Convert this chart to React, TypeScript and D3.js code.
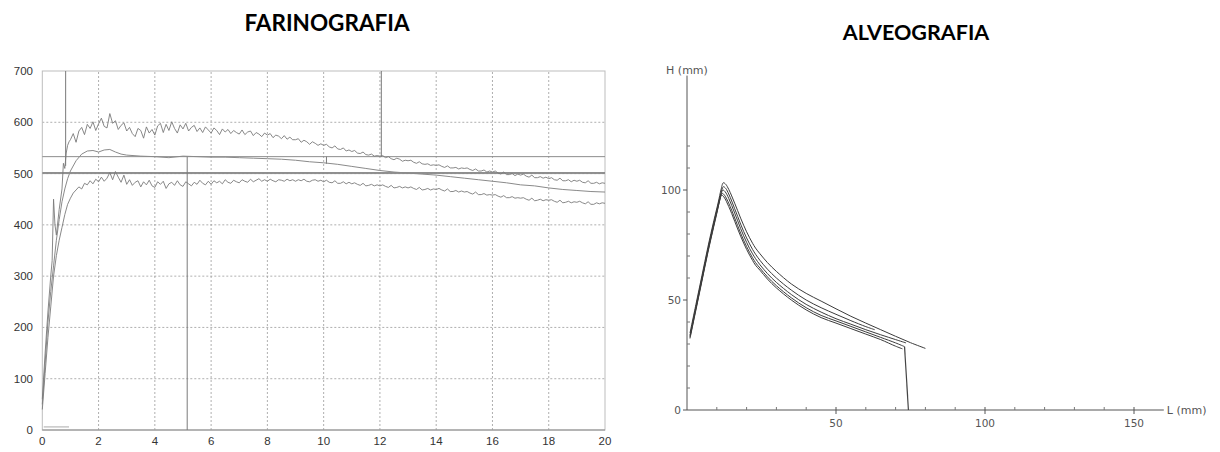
import React from "react";
import * as d3 from "d3";

// ---------- FARINOGRAFIA data ----------
const farXTicks = [0, 2, 4, 6, 8, 10, 12, 14, 16, 18, 20];
const farYTicks = [0, 100, 200, 300, 400, 500, 600, 700];

// early rise (x, value)
const upperRise: [number, number][] = [
  [0, 60], [0.1, 150], [0.2, 230], [0.3, 300], [0.35, 330], [0.4, 450], [0.45, 400],
  [0.5, 380], [0.6, 430], [0.7, 470], [0.75, 520], [0.8, 510], [0.85, 540], [0.9, 555], [0.95, 562],
];
const lowerRise: [number, number][] = [
  [0, 40], [0.1, 110], [0.2, 180], [0.3, 240], [0.4, 300], [0.5, 340], [0.6, 370],
  [0.7, 395], [0.8, 420], [0.9, 440],
];
// noisy band, x = 1.0 .. 20.0 step 0.1
const upperBand = [
  566, 578, 561, 583, 590, 576, 596, 588, 601, 584,
  597, 608, 592, 589, 617, 598, 603, 586, 594, 599,
  583, 590, 578, 572, 588, 584, 569, 591, 579, 586,
  575, 593, 598, 580, 596, 584, 601, 588, 579, 595,
  587, 598, 583, 590, 594, 582, 589, 580, 591, 585,
  579, 589, 584, 576, 587, 581, 586, 578, 584, 580,
  577, 585, 576, 581, 583, 574, 580, 577, 572, 579,
  575, 578, 570, 575, 573, 568, 574, 567, 571, 566,
  566, 568, 561, 565, 562, 557, 562, 559, 555, 558,
  555, 557, 552, 550, 554, 548, 547, 550, 544, 546,
  543, 545, 540, 539, 542, 537, 536, 538, 534, 535,
  534, 535, 531, 533, 529, 527, 530, 528, 524, 526,
  525, 526, 522, 520, 523, 519, 518, 519, 516, 517,
  516, 517, 514, 512, 515, 511, 511, 512, 509, 511,
  510, 511, 508, 506, 509, 505, 505, 507, 503, 505,
  503, 505, 501, 499, 503, 498, 498, 500, 496, 499,
  497, 499, 495, 493, 497, 492, 492, 494, 491, 493,
  490, 492, 488, 487, 491, 486, 486, 488, 484, 487,
  485, 487, 483, 482, 486, 481, 481, 483, 480, 482,
  481,
];
const lowerBand = [
  452, 462, 468, 474, 470, 481, 478, 486, 480, 489,
  484, 493, 485, 491, 502, 488, 504, 493, 483, 497,
  479, 488, 477, 483, 486, 474, 484, 478, 487, 476,
  473, 484, 479, 485, 471, 480, 483, 477, 486, 478,
  475, 484, 480, 476, 483, 479, 487, 481, 478, 485,
  479, 486, 482, 485, 480, 488, 483, 481, 487, 484,
  482, 488, 485, 483, 489, 484, 487, 490, 485, 488,
  485, 489, 486, 484, 488, 487, 485, 489, 486, 488,
  485, 488, 486, 489, 485, 484, 487, 488, 485, 487,
  484, 487, 483, 482, 486, 481, 481, 484, 480, 483,
  480, 482, 479, 477, 481, 476, 477, 479, 476, 478,
  476, 478, 475, 473, 477, 472, 473, 475, 472, 474,
  472, 474, 471, 469, 473, 468, 469, 471, 468, 470,
  469, 471, 468, 466, 470, 465, 465, 467, 464, 466,
  464, 465, 462, 460, 464, 459, 459, 461, 458, 459,
  458, 459, 456, 454, 457, 453, 453, 455, 452, 453,
  452, 453, 450, 448, 452, 447, 448, 450, 447, 449,
  448, 449, 446, 444, 448, 443, 444, 446, 443, 445,
  444, 446, 443, 441, 445, 440, 440, 443, 441, 443,
  442,
];
const middleCurve: [number, number][] = [
  [0, 50], [0.1, 130], [0.2, 210], [0.3, 270], [0.4, 320], [0.5, 370], [0.6, 410], [0.7, 445],
  [0.8, 470], [0.9, 490], [1.0, 505], [1.2, 525], [1.4, 538], [1.6, 544], [1.8, 545], [2.0, 542],
  [2.2, 546], [2.4, 547], [2.6, 542], [2.8, 538], [3.0, 536], [3.5, 534], [4, 533], [4.5, 531],
  [5, 534], [5.5, 533], [6, 532], [6.5, 532], [7, 531], [7.5, 530], [8, 529], [8.5, 528], [9, 526],
  [9.5, 523], [10, 521], [10.5, 518], [11, 514], [11.5, 510], [12, 506], [12.5, 503], [13, 501],
  [13.5, 499], [14, 497], [14.5, 494], [15, 491], [15.5, 488], [16, 485], [16.5, 482], [17, 478],
  [17.5, 476], [18, 472], [18.5, 469], [19, 467], [19.5, 465], [20, 464],
];
const farHLines = [533, 500, 502];
// vertical markers: [x, from, to]
const farVLines: [number, number, number][] = [
  [0.83, 700, 515],
  [12.05, 700, 533],
  [5.15, 533, 0],
  [10.1, 533, 519],
];
const farBaseMark: [number, number][] = [[0.05, 6], [0.95, 6]];

// ---------- ALVEOGRAFIA data ----------
const alvXLabels = [50, 100, 150];
const alvYLabels = [0, 50, 100];
const alvXMinor = [10, 20, 30, 40, 60, 70, 80, 90, 110, 120, 130, 140];
const alvYMinor = [10, 20, 30, 40, 60, 70, 80, 90, 110, 120];

const alvCurveA: [number, number][] = [
  [1, 35], [3, 48], [5, 61], [7, 74], [9, 86], [10.5, 94.5], [11.4, 100], [12.2, 103.3], [13, 102.6],
  [14, 100.3], [15, 97.3], [16, 94], [17, 90.6], [18, 87.2], [19, 84], [20, 81], [21, 78.3],
  [22, 75.8], [23, 73.6], [24.5, 71], [27, 67], [30, 63], [35, 57.3], [40, 53], [45, 49.5],
  [50, 46], [55, 42.6], [60, 39.5], [65, 36.5], [70, 33.5], [75, 30.6], [80, 28],
];
const alvCurveB: [number, number][] = [
  [1, 34], [3, 47], [5, 60], [7, 73], [9, 85], [10.5, 93.5], [11.4, 98.5], [12.2, 101.5], [13, 100.7],
  [14, 98.2], [15, 95], [16, 91.5], [17, 88], [18, 84.5], [19, 81.2], [20, 78.2], [21, 75.5],
  [22, 73], [23, 70.8], [24.5, 68], [27, 64], [30, 60], [35, 54.5], [40, 50], [45, 46.5],
  [50, 43.5], [55, 40.6], [60, 37.9], [63, 36.5],
];
const alvCurveC: [number, number][] = [
  [1, 33.5], [3, 46.5], [5, 59.5], [7, 72.5], [9, 84.5], [10.4, 92.5], [11.2, 97], [12, 100],
  [12.8, 99.2], [14, 96.2], [15, 93], [16, 89.5], [17, 86], [18, 82.5], [19, 79.2], [20, 76.2],
  [21, 73.4], [22, 71], [23, 68.8], [24.5, 66], [27, 62], [30, 58], [35, 52.5], [40, 48],
  [45, 44.5], [50, 41.5], [55, 39], [60, 36.5], [65, 34.2], [70, 32], [73.5, 30.5],
];
const alvCurveD: [number, number][] = [
  [1, 33], [3, 46], [5, 59], [7, 72], [9, 84], [10.3, 91.5], [11, 95.5], [11.8, 98.5],
  [12.6, 97.6], [14, 94], [15, 90.8], [16, 87.3], [17, 83.8], [18, 80.4], [19, 77.2], [20, 74.3],
  [21, 71.6], [22, 69.2], [23, 67], [24.5, 64.5], [27, 60.5], [30, 56.5], [35, 51], [40, 46.5],
  [45, 43], [50, 40.5], [55, 38], [60, 35.5], [65, 33], [70, 30.5], [73, 28.8],
];
const alvCurveE: [number, number][] = [
  [1, 32.5], [3, 45.5], [5, 58.5], [7, 71.5], [9, 83.5], [10.2, 90.5], [10.9, 94.8], [11.6, 97.7],
  [12.4, 96.8], [14, 92.5], [15, 89.3], [16, 85.8], [17, 82.3], [18, 79], [19, 75.9], [20, 73],
  [21, 70.4], [22, 68], [23, 65.8], [24.5, 63.5], [27, 59.5], [30, 55.5], [35, 50], [40, 45.5],
  [45, 42], [50, 39.5], [55, 37], [60, 34.5], [65, 32], [70, 29], [72.3, 27.8],
];
const alvDrop: [number, number][] = [[73, 28.8], [74.3, 0]];

export default function App() {
  // farinograph scales
  const xF = d3.scaleLinear().domain([0, 20]).range([42.3, 605]);
  const yF = d3.scaleLinear().domain([0, 700]).range([430, 71]);
  const lineF = d3
    .line<[number, number]>()
    .x((d) => xF(d[0]))
    .y((d) => yF(d[1]));
  const band = (rise: [number, number][], vals: number[]): [number, number][] =>
    rise.concat(vals.map((v, i) => [1 + i * 0.1, v] as [number, number]));
  const upperPts = band(upperRise, upperBand);
  const lowerPts = band(lowerRise, lowerBand);

  // alveograph scales
  const xA = d3.scaleLinear().domain([0, 160]).range([687, 1163.8]);
  const yA = d3.scaleLinear().domain([0, 152]).range([410, 75.6]);
  const lineA = d3
    .line<[number, number]>()
    .x((d) => xA(d[0]))
    .y((d) => yA(d[1]))
    .curve(d3.curveCatmullRom.alpha(0.5));
  const lineAlin = d3
    .line<[number, number]>()
    .x((d) => xA(d[0]))
    .y((d) => yA(d[1]));
  const alvCurves = [alvCurveA, alvCurveB, alvCurveC, alvCurveD, alvCurveE];

  const farFont = "'Liberation Sans', Arial, sans-serif";
  const alvFont = "'DejaVu Sans', Verdana, sans-serif";
  const titleFont = "Lato, 'Open Sans', sans-serif";

  return (
    <svg
      width={1220}
      height={452}
      style={{ position: "absolute", left: 0, top: 0, display: "block", background: "#fff" }}
    >
      {/* Titles */}
      <text x={327} y={31} textAnchor="middle" fontFamily={titleFont} fontWeight={700} fontSize={22.5} fill="#000">
        FARINOGRAFIA
      </text>
      <text x={916} y={40} textAnchor="middle" fontFamily={titleFont} fontWeight={700} fontSize={21.5} fill="#000">
        ALVEOGRAFIA
      </text>

      {/* ---------- Farinograph ---------- */}
      <g>
        {/* grid */}
        {farXTicks.slice(1, -1).map((t) => (
          <line key={"gx" + t} x1={xF(t)} x2={xF(t)} y1={yF(0)} y2={yF(700)} stroke="#9a9a9a" strokeWidth={0.8} strokeDasharray="2,2" />
        ))}
        {farYTicks.slice(1, -1).map((t) => (
          <line key={"gy" + t} x1={xF(0)} x2={xF(20)} y1={yF(t)} y2={yF(t)} stroke="#9a9a9a" strokeWidth={0.8} strokeDasharray="2,2" />
        ))}
        <rect x={xF(0)} y={yF(700)} width={xF(20) - xF(0)} height={yF(0) - yF(700)} fill="none" stroke="#bdbdbd" strokeWidth={1} />
        <line x1={xF(0)} x2={xF(20)} y1={yF(0)} y2={yF(0)} stroke="#8a8a8a" strokeWidth={1} />
        {/* horizontal reference lines */}
        {farHLines.map((v, i) => (
          <line key={"h" + i} x1={xF(0)} x2={xF(20)} y1={yF(v)} y2={yF(v)} stroke="#8c8c8c" strokeWidth={1} />
        ))}
        {farVLines.map((d, i) => (
          <line key={"v" + i} x1={xF(d[0])} x2={xF(d[0])} y1={yF(d[1])} y2={yF(d[2])} stroke="#7a7a7a" strokeWidth={1} />
        ))}
        <path d={lineF(farBaseMark) || ""} fill="none" stroke="#aaa" strokeWidth={1} />
        {/* curves */}
        <path d={lineF(middleCurve) || ""} fill="none" stroke="#8a8a8a" strokeWidth={1} />
        <path d={lineF(upperPts) || ""} fill="none" stroke="#7a7a7a" strokeWidth={0.9} />
        <path d={lineF(lowerPts) || ""} fill="none" stroke="#7a7a7a" strokeWidth={0.9} />
        {/* tick labels */}
        {farYTicks.map((t) => (
          <text key={"ly" + t} x={33} y={yF(t) + 4} textAnchor="end" fontFamily={farFont} fontSize={11.5} fill="#333">
            {t}
          </text>
        ))}
        {farXTicks.map((t) => (
          <text key={"lx" + t} x={xF(t)} y={445} textAnchor="middle" fontFamily={farFont} fontSize={11.5} fill="#333">
            {t}
          </text>
        ))}
      </g>

      {/* ---------- Alveograph ---------- */}
      <g>
        <line x1={xA(0)} x2={xA(0)} y1={yA(0)} y2={yA(152)} stroke="#555" strokeWidth={1} />
        <line x1={xA(0)} x2={xA(160)} y1={yA(0)} y2={yA(0)} stroke="#555" strokeWidth={1} />
        {alvYMinor.map((t) => (
          <line key={"ym" + t} x1={xA(0)} x2={xA(0) + 3} y1={yA(t)} y2={yA(t)} stroke="#777" strokeWidth={1} />
        ))}
        {alvYLabels.map((t) => (
          <line key={"yM" + t} x1={xA(0) - 4} x2={xA(0)} y1={yA(t)} y2={yA(t)} stroke="#555" strokeWidth={1} />
        ))}
        {alvXMinor.map((t) => (
          <line key={"xm" + t} x1={xA(t)} x2={xA(t)} y1={yA(0)} y2={yA(0) - 3} stroke="#777" strokeWidth={1} />
        ))}
        {alvXLabels.map((t) => (
          <line key={"xM" + t} x1={xA(t)} x2={xA(t)} y1={yA(0) - 3} y2={yA(0) + 4} stroke="#555" strokeWidth={1} />
        ))}
        {alvYLabels.map((t) => (
          <text key={"aly" + t} x={xA(0) - 6} y={yA(t) + 4} textAnchor="end" fontFamily={alvFont} fontSize={10.5} fill="#555">
            {t}
          </text>
        ))}
        {alvXLabels.map((t) => (
          <text key={"alx" + t} x={xA(t)} y={yA(0) + 17} textAnchor="middle" fontFamily={alvFont} fontSize={10.5} fill="#555">
            {t}
          </text>
        ))}
        <text x={xA(0)} y={yA(152) - 2} textAnchor="middle" fontFamily={alvFont} fontSize={11} fill="#555">
          H (mm)
        </text>
        <text x={xA(160) + 3} y={yA(0) + 4} textAnchor="start" fontFamily={alvFont} fontSize={11} fill="#555">
          L (mm)
        </text>
        {alvCurves.map((c, i) => (
          <path key={"ac" + i} d={lineA(c) || ""} fill="none" stroke="#3c3c3c" strokeWidth={1} />
        ))}
        <path d={lineAlin(alvDrop) || ""} fill="none" stroke="#444" strokeWidth={1.2} />
      </g>
    </svg>
  );
}
